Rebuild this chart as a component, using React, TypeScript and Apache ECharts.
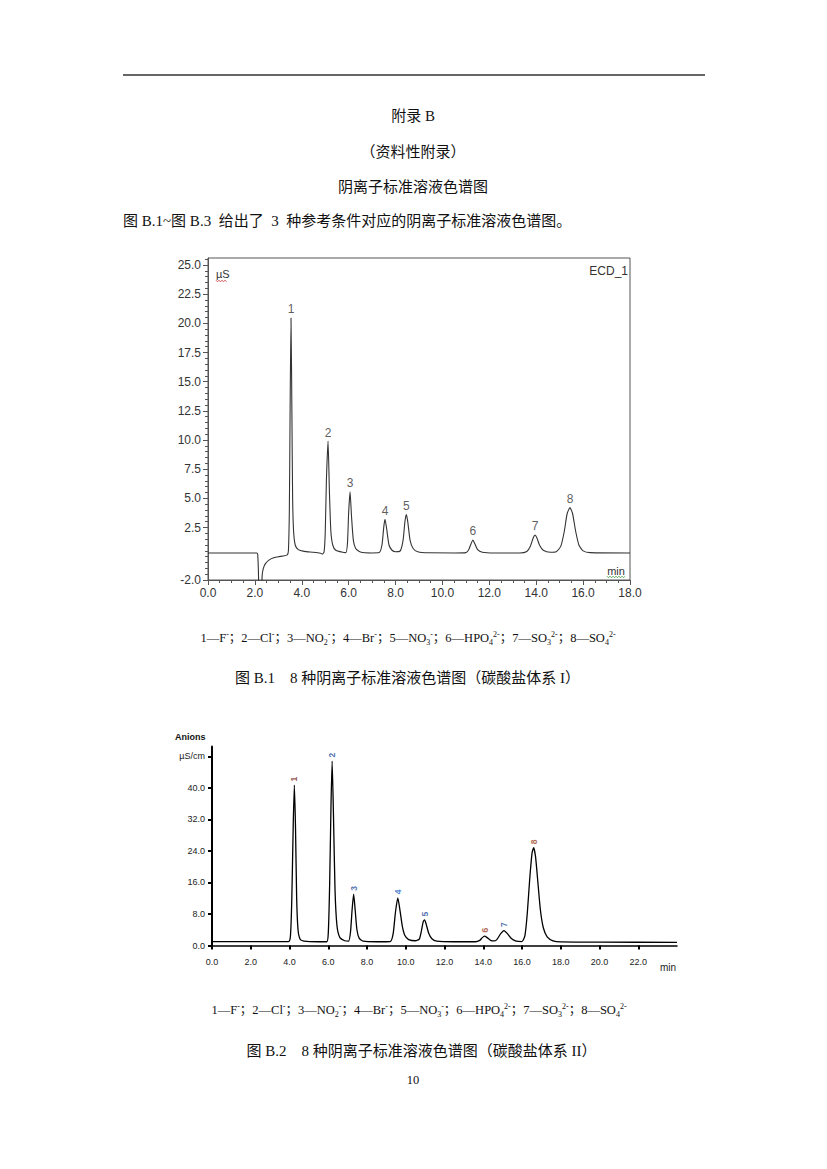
import React, { useEffect, useRef } from "react";
import * as echarts from "echarts";

// ---------- Figure B.1 data (time in min, conductivity in µS) ----------
const trace1: number[][] = [
  [0, 0.32], [2.08, 0.32], [2.12, 0.2], [2.15, -1.2], [2.18, -2.8], [2.28, -2.8], [2.31, -1.6],
  [2.36, -1.0], [2.45, -0.6], [2.6, -0.3], [2.8, -0.1], [3.0, 0.0], [3.2, 0.05], [3.38, 0.15],
  [3.43, 0.5], [3.47, 4], [3.5, 12], [3.54, 20.46], [3.58, 12], [3.61, 5], [3.65, 2.2], [3.72, 1.0],
  [3.85, 0.6], [4.1, 0.45], [4.5, 0.38], [4.8, 0.3], [4.88, 0.22], [4.95, 0.4], [5.0, 2], [5.05, 6.5],
  [5.12, 9.9], [5.18, 5.5], [5.24, 2.2], [5.32, 1.0], [5.45, 0.55], [5.7, 0.4], [5.88, 0.35],
  [5.95, 1.2], [6.0, 3.8], [6.06, 5.55], [6.12, 3.5], [6.2, 1.4], [6.3, 0.7], [6.5, 0.4], [7.0, 0.32],
  [7.3, 0.35], [7.42, 1.0], [7.5, 2.6], [7.55, 3.2], [7.62, 2.4], [7.72, 1.0], [7.85, 0.55],
  [8.0, 0.42], [8.2, 0.5], [8.32, 1.4], [8.4, 3.0], [8.46, 3.6], [8.52, 3.0], [8.62, 1.4], [8.75, 0.7],
  [8.95, 0.42], [9.4, 0.33], [10.5, 0.32], [11.0, 0.35], [11.12, 0.6], [11.22, 1.1], [11.3, 1.43],
  [11.38, 1.1], [11.5, 0.6], [11.7, 0.38], [12.2, 0.32], [13.3, 0.32], [13.6, 0.45], [13.75, 0.9],
  [13.87, 1.6], [13.95, 1.86], [14.03, 1.6], [14.15, 0.95], [14.3, 0.55], [14.6, 0.38], [14.85, 0.42],
  [15.05, 0.9], [15.2, 2.2], [15.32, 3.7], [15.44, 4.2], [15.55, 3.7], [15.68, 2.2], [15.82, 1.0],
  [16.0, 0.5], [16.3, 0.35], [18, 0.32],
];
const peaks1Label = ["1", "2", "3", "4", "5", "6", "7", "8"];
const peaks1Time = [3.54, 5.12, 6.06, 7.55, 8.46, 11.3, 13.95, 15.44];
const peaks1Height = [20.46, 9.9, 5.55, 3.2, 3.6, 1.43, 1.86, 4.2];
const xLabels1 = [0, 2, 4, 6, 8, 10, 12, 14, 16, 18];
const yLabels1 = [-2, 2.5, 5, 7.5, 10, 12.5, 15, 17.5, 20, 22.5, 25];

// ---------- Figure B.2 data (time in min, conductivity in µS/cm) ----------
const trace2: number[][] = [
  [0, 1.0], [3.95, 1.0], [4.05, 2.5], [4.12, 12], [4.19, 30], [4.25, 40.7], [4.31, 30], [4.37, 12],
  [4.44, 4], [4.55, 1.6], [4.75, 1.1], [5.5, 0.95], [5.92, 0.95], [6.0, 3], [6.07, 15], [6.14, 35],
  [6.2, 46.8], [6.27, 33], [6.35, 14], [6.45, 5], [6.6, 2], [6.85, 1.2], [7.05, 1.1], [7.15, 3.5],
  [7.23, 9], [7.31, 13.0], [7.39, 9], [7.48, 4], [7.6, 1.8], [7.8, 1.1], [8.5, 0.95], [9.2, 1.0],
  [9.35, 3], [9.47, 8.5], [9.59, 12.1], [9.7, 9], [9.82, 5], [9.95, 2.6], [10.15, 1.5], [10.5, 1.2],
  [10.7, 1.6], [10.8, 3.5], [10.9, 6.0], [10.97, 6.5], [11.05, 5.5], [11.18, 3.2], [11.35, 1.7],
  [11.6, 1.1], [12.5, 0.95], [13.6, 0.95], [13.82, 1.3], [13.95, 2.0], [14.07, 2.4], [14.2, 2.0],
  [14.38, 1.3], [14.55, 1.15], [14.7, 1.5], [14.9, 3.0], [15.07, 3.8], [15.25, 3.0], [15.45, 1.8],
  [15.7, 1.1], [16.0, 1.0], [16.15, 2.5], [16.27, 8], [16.4, 17], [16.52, 23.5], [16.6, 24.8],
  [16.7, 22.5], [16.82, 16], [16.95, 9], [17.1, 4.5], [17.3, 2.2], [17.6, 1.2], [18.0, 0.9],
  [20, 0.85], [24, 0.8],
];
const peaks2Label = ["1", "2", "3", "4", "5", "6", "7", "8"];
const peaks2Time = [4.25, 6.2, 7.31, 9.59, 10.97, 14.07, 15.07, 16.6];
const peaks2Height = [40.7, 46.8, 13.0, 12.1, 6.5, 2.4, 3.8, 24.8];
const peaks2Color = ["#7a2a24", "#1d4a9a", "#1d4a9a", "#2a6cc8", "#1d4a9a", "#9a4028", "#1d4a9a", "#9a4028"];
const yLabels2 = [0, 8, 16, 24, 32, 40, 48];

const CJK = '"Liberation Serif", "Noto Sans CJK SC", serif';
const SANS = '"Liberation Sans", Arial, sans-serif';

const legendText =
  "1—F{sup|-}；2—Cl{sup|-}；3—NO{sub|2}{sup|-}；4—Br{sup|-}；5—NO{sub|3}{sup|-}；6—HPO{sub|4}{sup|2-}；7—SO{sub|3}{sup|2-}；8—SO{sub|4}{sup|2-}";

const richLegend = {
  sup: { fontSize: 8, fontFamily: CJK, verticalAlign: "top", lineHeight: 9, fill: "#111", color: "#111" },
  sub: { fontSize: 8, fontFamily: CJK, verticalAlign: "bottom", lineHeight: 9, fill: "#111", color: "#111" },
};

function centerText(text: string, x: number, y: number, size = 15) {
  return {
    type: "text",
    x,
    y,
    style: { text, fontSize: size, fontFamily: CJK, fill: "#111", textAlign: "center", textVerticalAlign: "middle" },
  };
}

function legend(x: number, y: number) {
  return {
    type: "text",
    x,
    y,
    style: {
      text: legendText,
      fontSize: 12.5,
      lineHeight: 16,
      fontFamily: CJK,
      fill: "#111",
      textAlign: "center",
      textVerticalAlign: "middle",
      rich: richLegend,
    },
  };
}

function wavy(x0: number, x1: number, y: number, color: string) {
  const pts: number[][] = [];
  let up = true;
  for (let x = x0; x <= x1; x += 1.5) {
    pts.push([x, up ? y - 0.8 : y + 0.8]);
    up = !up;
  }
  return { type: "polyline", shape: { points: pts }, style: { stroke: color, lineWidth: 0.8, fill: null } };
}

export default function App() {
  const ref = useRef<HTMLDivElement>(null);

  useEffect(() => {
    if (!ref.current) return;
    const chart = echarts.init(ref.current, undefined, { renderer: "svg" });

    const yMinor1: number[] = [];
    for (let v = -2; v <= 25.5; v += 0.5) if (!yLabels1.includes(v)) yMinor1.push(v);

    const fmt1 = (v: number) => v.toFixed(1);

    const option: any = {
      animation: false,
      backgroundColor: "#fff",
      grid: [
        { left: 208, top: 258, width: 422, height: 322, show: true, borderColor: "#555", borderWidth: 1, backgroundColor: "transparent" },
        { left: 212, top: 746.5, width: 465, height: 199 },
      ],
      xAxis: [
        {
          gridIndex: 0,
          type: "value",
          min: 0,
          max: 18,
          interval: 2,
          axisLine: { show: true, onZero: false, lineStyle: { color: "#555", width: 1 } },
          axisTick: { show: true, length: 5, lineStyle: { color: "#555" } },
          minorTick: { show: true, splitNumber: 4, length: 3, lineStyle: { color: "#555" } },
          splitLine: { show: false },
          minorSplitLine: { show: false },
          axisLabel: { customValues: xLabels1, formatter: fmt1, color: "#333", fontSize: 12, fontFamily: SANS, margin: 7 },
        },
        {
          gridIndex: 1,
          type: "value",
          min: 0,
          max: 24,
          interval: 2,
          axisLine: { show: true, onZero: false, lineStyle: { color: "#000", width: 1.5 } },
          axisTick: { show: true, length: 4, lineStyle: { color: "#000", width: 2 } },
          splitLine: { show: false },
          axisLabel: { showMaxLabel: false, formatter: fmt1, color: "#222", fontSize: 9, fontFamily: SANS, margin: 12 },
        },
      ],
      yAxis: [
        {
          gridIndex: 0,
          type: "value",
          position: "left",
          min: -2,
          max: 25.6,
          axisLine: { show: true, onZero: false, lineStyle: { color: "#555", width: 1 } },
          axisTick: { show: true, customValues: yLabels1, length: 5, lineStyle: { color: "#555" } },
          axisLabel: { customValues: yLabels1, formatter: fmt1, color: "#333", fontSize: 12, fontFamily: SANS, margin: 7 },
          splitLine: { show: false },
        },
        {
          gridIndex: 0,
          type: "value",
          position: "left",
          min: -2,
          max: 25.6,
          axisLine: { show: false, onZero: false },
          axisTick: { show: true, customValues: yMinor1, length: 3, lineStyle: { color: "#555" } },
          axisLabel: { show: false },
          splitLine: { show: false },
        },
        {
          gridIndex: 1,
          type: "value",
          position: "left",
          min: 0,
          max: 50.5,
          axisLine: { show: true, onZero: false, lineStyle: { color: "#000", width: 2 } },
          axisTick: { show: true, customValues: yLabels2, length: 4, lineStyle: { color: "#000", width: 2 } },
          axisLabel: {
            customValues: yLabels2,
            formatter: (v: number) => (v === 48 ? "µS/cm" : v.toFixed(1)),
            color: "#222",
            fontSize: 9,
            fontFamily: SANS,
            margin: 7,
          },
          splitLine: { show: false },
        },
      ],
      series: [
        {
          type: "line",
          xAxisIndex: 0,
          yAxisIndex: 0,
          data: trace1,
          symbol: "none",
          smooth: 0.2,
          clip: true,
          silent: true,
          lineStyle: { color: "#333", width: 1.1 },
        },
        {
          type: "scatter",
          xAxisIndex: 0,
          yAxisIndex: 0,
          symbolSize: 1,
          silent: true,
          itemStyle: { color: "rgba(0,0,0,0)" },
          data: peaks1Time.map((t, i) => ({ value: [t, peaks1Height[i]], name: peaks1Label[i] })),
          label: { show: true, position: "top", distance: 2, formatter: "{b}", color: "#333", fontSize: 12, fontFamily: SANS },
        },
        {
          type: "line",
          xAxisIndex: 1,
          yAxisIndex: 2,
          data: trace2,
          symbol: "none",
          smooth: 0.2,
          clip: true,
          silent: true,
          lineStyle: { color: "#000", width: 1.3 },
        },
        {
          type: "scatter",
          xAxisIndex: 1,
          yAxisIndex: 2,
          symbolSize: 1,
          silent: true,
          itemStyle: { color: "rgba(0,0,0,0)" },
          data: peaks2Time.map((t, i) => ({
            value: [t, peaks2Height[i]],
            name: peaks2Label[i],
            label: { color: peaks2Color[i] },
          })),
          label: {
            show: true,
            position: "top",
            distance: 3,
            rotate: 90,
            align: "left",
            verticalAlign: "middle",
            formatter: "{b}",
            fontSize: 8.5,
            fontWeight: "bold",
            fontFamily: SANS,
          },
        },
      ],
      graphic: [
        { type: "line", shape: { x1: 123, y1: 75, x2: 705, y2: 75 }, style: { stroke: "#333", lineWidth: 1.6 } },
        centerText("附录 B", 413, 116),
        centerText("（资料性附录）", 413, 152),
        centerText("阴离子标准溶液色谱图", 413, 187),
        {
          type: "text",
          x: 123,
          y: 221,
          style: {
            text: "图 B.1~图 B.3  给出了  3  种参考条件对应的阴离子标准溶液色谱图。",
            fontSize: 15,
            fontFamily: CJK,
            fill: "#111",
            textAlign: "left",
            textVerticalAlign: "middle",
          },
        },
        // Figure B.1 decorations
        { type: "text", x: 216, y: 274, style: { text: "µS", fontSize: 11, fontFamily: SANS, fill: "#333", textAlign: "left", textVerticalAlign: "middle" } },
        wavy(216, 227, 281, "#d03030"),
        { type: "text", x: 628, y: 271, style: { text: "ECD_1", fontSize: 12, fontFamily: SANS, fill: "#333", textAlign: "right", textVerticalAlign: "middle" } },
        { type: "text", x: 616, y: 571, style: { text: "min", fontSize: 11, fontFamily: SANS, fill: "#333", textAlign: "center", textVerticalAlign: "middle" } },
        wavy(607, 625, 577, "#3a9a3a"),
        legend(408, 638),
        centerText("图 B.1　8 种阴离子标准溶液色谱图（碳酸盐体系 I）", 407.5, 678),
        // Figure B.2 decorations
        { type: "text", x: 175, y: 737, style: { text: "Anions", fontSize: 9, fontWeight: "bold", fontFamily: SANS, fill: "#111", textAlign: "left", textVerticalAlign: "middle" } },
        { type: "text", x: 668, y: 967, style: { text: "min", fontSize: 10, fontFamily: SANS, fill: "#222", textAlign: "center", textVerticalAlign: "middle" } },
        legend(419, 1010),
        centerText("图 B.2　8 种阴离子标准溶液色谱图（碳酸盐体系 II）", 421.5, 1051),
        { type: "text", x: 413, y: 1080, style: { text: "10", fontSize: 12.5, fontFamily: CJK, fill: "#111", textAlign: "center", textVerticalAlign: "middle" } },
      ],
    };

    chart.setOption(option);
    return () => chart.dispose();
  }, []);

  return (
    <div
      ref={ref}
      style={{ position: "absolute", left: 0, top: 0, width: 827, height: 1169, background: "#fff" }}
    />
  );
}
